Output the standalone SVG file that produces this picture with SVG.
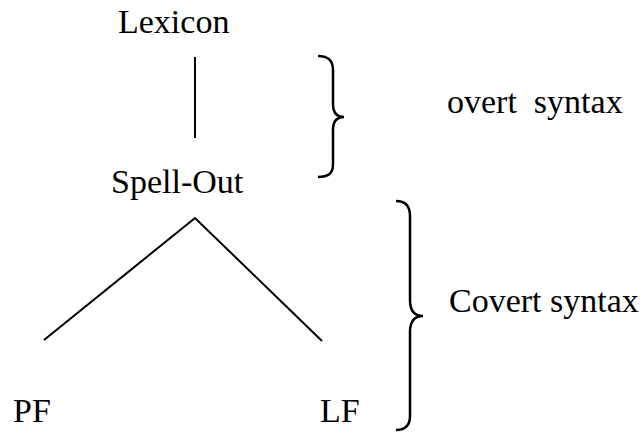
<svg xmlns="http://www.w3.org/2000/svg" width="643" height="436" viewBox="0 0 643 436">
<style>
text{font-family:"Liberation Serif","Times New Roman",serif;font-size:34px;fill:#000;white-space:pre}
.ln{stroke:#000;stroke-width:2;fill:none}
.br{stroke:#000;stroke-width:2.5;fill:none}
</style>
<rect width="643" height="436" fill="#fff"/>
<g id="lexicon"><text x="118" y="33">Lexicon</text></g>
<g id="spellout"><text x="111" y="193">Spell-Out</text></g>
<g id="pf"><text x="13" y="422">PF</text></g>
<g id="lf"><text x="320" y="422">LF</text></g>
<g id="connectors">
<line class="ln" x1="195" y1="57" x2="195" y2="138"/>
<polyline class="ln" points="44,340 195,218 322,341"/>
</g>
<g id="overt">
<path class="br" d="M318,56 C328,56 333,60 333,70 L333,104 C333,112 336,117 344,117 C336,117 333,122 333,130 L333,164 C333,174 328,177 318,177"/>
<text x="447" y="113">overt  syntax</text>
</g>
<g id="covert">
<path class="br" d="M396,201 C405,201 410,206 410,216 L410,300 C410,310 414,316 423,316 C414,316 410,322 410,332 L410,416 C410,426 405,430 396,430"/>
<text x="449" y="312">Covert syntax</text>
</g>
</svg>
